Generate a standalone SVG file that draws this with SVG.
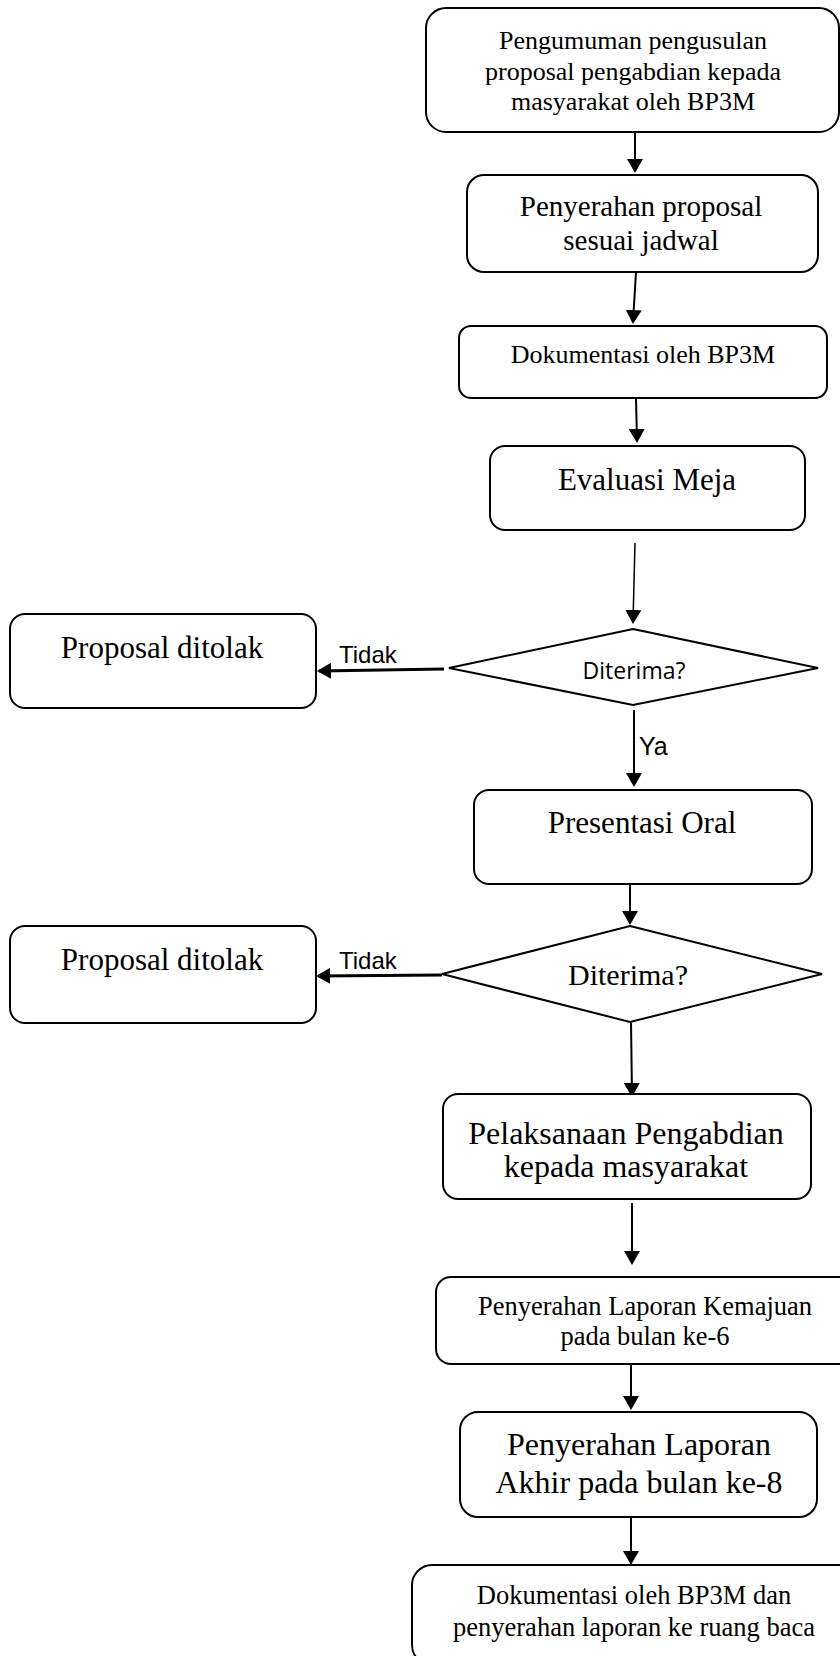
<svg xmlns="http://www.w3.org/2000/svg" width="840" height="1656" viewBox="0 0 840 1656">
<style>
.box{fill:#fff;stroke:#000;stroke-width:2}
.t{font-family:"Liberation Serif","Times New Roman",serif;fill:#000;text-anchor:middle}
.s{font-family:"Liberation Sans",Arial,sans-serif;fill:#000}
.c{stroke:#000;stroke-width:2;fill:none}
.thin{stroke-width:1.5}
.thick{stroke-width:3}
</style>
<defs>
<marker id="ah" markerUnits="userSpaceOnUse" viewBox="0 0 14 16" markerWidth="14" markerHeight="16" refX="12" refY="8" orient="auto">
<path d="M0,0 L14,8 L0,16 Z" fill="#000"/>
</marker>
</defs>
<rect width="840" height="1656" fill="#fff"/>
<g id="connectors">
<line class="c" x1="635" y1="132" x2="635" y2="171" marker-end="url(#ah)"/>
<line class="c" x1="636" y1="272" x2="633" y2="322" marker-end="url(#ah)"/>
<line class="c" x1="636" y1="398" x2="637" y2="441" marker-end="url(#ah)"/>
<line class="c thin" x1="635" y1="543" x2="633" y2="622" marker-end="url(#ah)"/>
<line class="c thick" x1="444" y1="669" x2="319" y2="671" marker-end="url(#ah)"/>
<line class="c" x1="634" y1="710" x2="634" y2="785" marker-end="url(#ah)"/>
<line class="c" x1="630" y1="884" x2="630" y2="923" marker-end="url(#ah)"/>
<line class="c thick" x1="442" y1="975" x2="318" y2="976" marker-end="url(#ah)"/>
<line class="c" x1="631" y1="1022" x2="632" y2="1095" marker-end="url(#ah)"/>
<line class="c" x1="632" y1="1203" x2="632" y2="1263" marker-end="url(#ah)"/>
<line class="c" x1="631" y1="1364" x2="631" y2="1408" marker-end="url(#ah)"/>
<line class="c" x1="631" y1="1517" x2="631" y2="1563" marker-end="url(#ah)"/>
<text class="s" x="339" y="663" font-size="24">Tidak</text>
<text class="s" x="639" y="755" font-size="25">Ya</text>
<text class="s" x="339" y="969" font-size="24">Tidak</text>
</g>
<g id="n1">
<rect class="box" x="426" y="8" width="413" height="124" rx="20"/>
<text class="t" font-size="26" x="633" y="49">Pengumuman pengusulan</text>
<text class="t" font-size="26" x="633" y="80">proposal pengabdian kepada</text>
<text class="t" font-size="26" x="633" y="110">masyarakat oleh BP3M</text>
</g>
<g id="n2">
<rect class="box" x="467" y="175" width="351" height="97" rx="17"/>
<text class="t" font-size="29" x="641" y="216">Penyerahan proposal</text>
<text class="t" font-size="29" x="641" y="250">sesuai jadwal</text>
</g>
<g id="n3">
<rect class="box" x="459" y="326" width="368" height="72" rx="12"/>
<text class="t" font-size="26" x="643" y="363">Dokumentasi oleh BP3M</text>
</g>
<g id="n4">
<rect class="box" x="490" y="446" width="315" height="84" rx="15"/>
<text class="t" font-size="31" x="647" y="490">Evaluasi Meja</text>
</g>
<g id="d1">
<polygon class="box" points="633,629 818,668 633,705 449,668"/>
<text x="634" y="679" font-size="23" font-family="'Open Sans','Liberation Sans',sans-serif" text-anchor="middle" fill="#000">Diterima?</text>
</g>
<g id="r1">
<rect class="box" x="10" y="614" width="306" height="94" rx="15"/>
<text class="t" font-size="31" x="162" y="658">Proposal ditolak</text>
</g>
<g id="n5">
<rect class="box" x="474" y="790" width="338" height="94" rx="15"/>
<text class="t" font-size="31" x="642" y="833">Presentasi Oral</text>
</g>
<g id="d2">
<polygon class="box" points="630,926 822,974 630,1022 442,974"/>
<text class="t" font-size="30" x="628" y="985">Diterima?</text>
</g>
<g id="r2">
<rect class="box" x="10" y="926" width="306" height="97" rx="15"/>
<text class="t" font-size="31" x="162" y="970">Proposal ditolak</text>
</g>
<g id="n6">
<rect class="box" x="443" y="1094" width="368" height="105" rx="15"/>
<text class="t" font-size="32" x="626" y="1144">Pelaksanaan Pengabdian</text>
<text class="t" font-size="32" x="626" y="1177">kepada masyarakat</text>
</g>
<g id="n7">
<rect class="box" x="436" y="1277" width="430" height="87" rx="15"/>
<text class="t" font-size="26.5" x="645" y="1315">Penyerahan Laporan Kemajuan</text>
<text class="t" font-size="26.5" x="645" y="1345">pada bulan ke-6</text>
</g>
<g id="n8">
<rect class="box" x="460" y="1412" width="357" height="105" rx="18"/>
<text class="t" font-size="32" x="639" y="1455">Penyerahan Laporan</text>
<text class="t" font-size="32" x="639" y="1493">Akhir pada bulan ke-8</text>
</g>
<g id="n9">
<rect class="box" x="412" y="1565" width="450" height="100" rx="20"/>
<text class="t" font-size="26.5" x="634" y="1604">Dokumentasi oleh BP3M dan</text>
<text class="t" font-size="26.5" x="634" y="1636">penyerahan laporan ke ruang baca</text>
</g>
</svg>
